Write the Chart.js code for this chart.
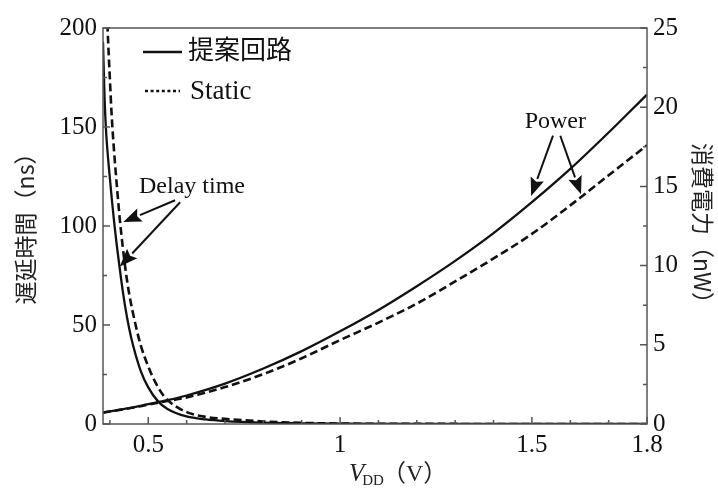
<!DOCTYPE html>
<html>
<head>
<meta charset="utf-8">
<script src="https://cdn.jsdelivr.net/npm/chart.js@4/dist/chart.umd.min.js"></script>
<style>
  html, body { margin: 0; padding: 0; background: #fff; }
  #wrap { width: 718px; height: 488px; }
</style>
</head>
<body>
<div id="wrap"><canvas id="c" width="718" height="488"></canvas></div>
<script>
// Series names shown in the legend
const seriesNames = ['提案回路', 'Static'];

// Delay time (ns) versus supply voltage (V)
const delayVddProposed = [0.382, 0.386, 0.39, 0.40, 0.41, 0.42, 0.43, 0.44, 0.45, 0.46, 0.48, 0.50, 0.526, 0.55, 0.60, 0.65, 0.70, 0.80, 0.90, 1.0, 1.2, 1.5, 1.8];
const delayProposed    = [193, 165, 148, 124, 104, 87, 72, 59, 48.5, 40, 27, 18.5, 11.3, 7.6, 3.8, 2.3, 1.5, 0.7, 0.35, 0.2, 0.08, 0.03, 0.01];
const delayVddStatic   = [0.382, 0.39, 0.394, 0.40, 0.404, 0.41, 0.42, 0.426, 0.44, 0.45, 0.467, 0.48, 0.50, 0.52, 0.54, 0.56, 0.60, 0.65, 0.70, 0.75, 0.80, 0.90, 1.0, 1.1, 1.3, 1.8];
const delayStatic      = [275, 225, 200, 174, 158, 140, 116, 103, 79, 66, 50, 40, 29, 20.5, 14.3, 10.5, 6.0, 3.6, 2.6, 1.9, 1.3, 0.55, 0.25, 0.1, 0.04, 0.01];

// Power consumption (nW) versus supply voltage (V)
const powerVdd      = [0.382, 0.45, 0.5, 0.55, 0.6, 0.7, 0.8, 0.9, 1.0, 1.1, 1.2, 1.3, 1.4, 1.5, 1.6, 1.7, 1.8];
const powerProposed = [0.72, 1.0, 1.25, 1.5, 1.8, 2.55, 3.5, 4.6, 5.85, 7.2, 8.7, 10.3, 12.05, 14.0, 16.1, 18.4, 20.8];
const powerStatic   = [0.72, 0.99, 1.22, 1.45, 1.68, 2.33, 3.15, 4.15, 5.3, 6.4, 7.6, 9.0, 10.45, 12.0, 13.8, 15.7, 17.6];

// Axis ticks
const xTickValues  = [0.5, 1, 1.5, 1.8];
const xMinorTicks  = [0.4, 0.6, 0.7, 0.8, 0.9, 1.1, 1.2, 1.3, 1.4, 1.6, 1.7];
const yLeftTicks   = [0, 50, 100, 150, 200];
const yLeftMinor   = [25, 75, 125, 175];
const yRightTicks  = [0, 5, 10, 15, 20, 25];
const yRightMinor  = [2.5, 7.5, 12.5, 17.5, 22.5];

// Axis titles and callouts
const yLeftTitle  = '遅延時間（ns）';
const yRightTitle = '消費電力（nW）';
const delayLabel  = { text: 'Delay time', at: [0.614, 120], arrows: [[0.570, 113, 0.435, 102], [0.583, 112, 0.426, 79.5]] };
const powerLabel  = { text: 'Power', at: [1.561, 19.1], arrows: [[1.555, 18.2, 1.498, 14.4], [1.574, 18.2, 1.628, 14.5]] };

const pts = (xs, ys) => xs.map((x, i) => ({ x, y: ys[i] }));

const SERIF = "'Liberation Serif', 'Noto Sans CJK JP'";
const INK = '#111';
const FRAME = '#555';

function arrow(ctx, x1, y1, x2, y2) {
  const ang = Math.atan2(y2 - y1, x2 - x1);
  const len = 18, half = 7;
  const bx = x2 - len * Math.cos(ang), by = y2 - len * Math.sin(ang);
  ctx.beginPath();
  ctx.moveTo(x1, y1);
  ctx.lineTo(bx, by);
  ctx.lineWidth = 2;
  ctx.stroke();
  ctx.beginPath();
  ctx.moveTo(x2, y2);
  ctx.lineTo(bx - half * Math.sin(ang), by + half * Math.cos(ang));
  ctx.lineTo(bx + 3 * Math.cos(ang), by + 3 * Math.sin(ang));
  ctx.lineTo(bx + half * Math.sin(ang), by - half * Math.cos(ang));
  ctx.closePath();
  ctx.fill();
}

const decorations = {
  id: 'decorations',
  afterDraw(chart) {
    const ctx = chart.ctx;
    const a = chart.chartArea;
    const sx = chart.scales.x, sl = chart.scales.yL, sr = chart.scales.yR;
    ctx.save();

    // frame
    ctx.strokeStyle = FRAME;
    ctx.lineWidth = 1.5;
    ctx.strokeRect(a.left, a.top, a.right - a.left, a.bottom - a.top);

    // inward tick marks
    ctx.beginPath();
    const tick = (x1, y1, x2, y2) => { ctx.moveTo(x1, y1); ctx.lineTo(x2, y2); };
    xTickValues.forEach(v => { const p = sx.getPixelForValue(v); tick(p, a.bottom, p, a.bottom - 7); });
    xMinorTicks.forEach(v => { const p = sx.getPixelForValue(v); tick(p, a.bottom, p, a.bottom - 4); });
    yLeftTicks.forEach(v => { const p = sl.getPixelForValue(v); tick(a.left, p, a.left + 7, p); });
    yLeftMinor.forEach(v => { const p = sl.getPixelForValue(v); tick(a.left, p, a.left + 4, p); });
    yRightTicks.forEach(v => { const p = sr.getPixelForValue(v); tick(a.right, p, a.right - 7, p); });
    yRightMinor.forEach(v => { const p = sr.getPixelForValue(v); tick(a.right, p, a.right - 4, p); });
    ctx.stroke();

    // legend
    ctx.strokeStyle = INK;
    ctx.fillStyle = INK;
    const lx = a.left + 40;
    const rows = [a.top + 24, a.top + 63];
    ctx.lineWidth = 2.6;
    ctx.setLineDash([]);
    ctx.beginPath(); ctx.moveTo(lx, rows[0]); ctx.lineTo(lx + 39, rows[0]); ctx.stroke();
    ctx.setLineDash([3, 2.6]);
    ctx.beginPath(); ctx.moveTo(lx + 2, rows[1]); ctx.lineTo(lx + 37, rows[1]); ctx.stroke();
    ctx.setLineDash([]);
    ctx.font = '26px ' + SERIF;
    ctx.textBaseline = 'middle';
    ctx.textAlign = 'left';
    ctx.fillText(seriesNames[0], lx + 45, rows[0]);
    ctx.font = '27px ' + SERIF;
    ctx.fillText(seriesNames[1], lx + 47, rows[1] + 1);

    // callouts
    ctx.font = '24px ' + SERIF;
    ctx.textAlign = 'center';
    ctx.fillText(delayLabel.text, sx.getPixelForValue(delayLabel.at[0]), sl.getPixelForValue(delayLabel.at[1]));
    delayLabel.arrows.forEach(r => arrow(ctx, sx.getPixelForValue(r[0]), sl.getPixelForValue(r[1]), sx.getPixelForValue(r[2]), sl.getPixelForValue(r[3])));
    ctx.fillText(powerLabel.text, sx.getPixelForValue(powerLabel.at[0]), sr.getPixelForValue(powerLabel.at[1]));
    powerLabel.arrows.forEach(r => arrow(ctx, sx.getPixelForValue(r[0]), sr.getPixelForValue(r[1]), sx.getPixelForValue(r[2]), sr.getPixelForValue(r[3])));

    // y-axis titles
    ctx.font = "23px 'Noto Sans CJK JP'";
    ctx.fillStyle = '#222';
    ctx.save();
    ctx.translate(25, (a.top + a.bottom) / 2 - 3);
    ctx.rotate(-Math.PI / 2);
    ctx.fillText(yLeftTitle, 0, 0);
    ctx.restore();
    ctx.save();
    ctx.translate(a.right + 56, (a.top + a.bottom) / 2 + 3);
    ctx.rotate(Math.PI / 2);
    ctx.fillText(yRightTitle, 0, 0);
    ctx.restore();

    // x-axis title: V_DD (V)
    ctx.textAlign = 'left';
    ctx.textBaseline = 'alphabetic';
    let tx = 349;
    const base = 481;
    ctx.font = 'italic 25px ' + SERIF;
    ctx.fillText('V', tx, base);
    tx += ctx.measureText('V').width - 2;
    ctx.font = '15px ' + SERIF;
    ctx.fillText('DD', tx, base + 4);
    tx += ctx.measureText('DD').width - 2;
    ctx.font = '24px ' + SERIF;
    ctx.fillText('（V）', tx, base);

    ctx.restore();
  }
};

const tickFont = { family: SERIF, size: 25 };

new Chart(document.getElementById('c'), {
  type: 'line',
  data: {
    datasets: [
      { label: seriesNames[0], data: pts(delayVddProposed, delayProposed), yAxisID: 'yL',
        borderColor: INK, borderWidth: 2.3, pointRadius: 0, cubicInterpolationMode: 'monotone', fill: false },
      { label: seriesNames[1], data: pts(delayVddStatic, delayStatic), yAxisID: 'yL',
        borderColor: INK, borderWidth: 2.6, borderDash: [8, 4], pointRadius: 0, cubicInterpolationMode: 'monotone', fill: false },
      { label: seriesNames[0], data: pts(powerVdd, powerProposed), yAxisID: 'yR',
        borderColor: INK, borderWidth: 2.3, pointRadius: 0, cubicInterpolationMode: 'monotone', fill: false },
      { label: seriesNames[1], data: pts(powerVdd, powerStatic), yAxisID: 'yR',
        borderColor: INK, borderWidth: 2.6, borderDash: [8, 4], pointRadius: 0, cubicInterpolationMode: 'monotone', fill: false }
    ]
  },
  options: {
    responsive: false,
    devicePixelRatio: 1,
    animation: false,
    layout: { padding: { top: 28, left: 0, right: 0, bottom: 0 } },
    plugins: { legend: { display: false }, tooltip: { enabled: false } },
    scales: {
      x: {
        type: 'linear', min: 0.382, max: 1.8,
        afterFit(s) { s.height = 64; },
        afterBuildTicks(s) { s.ticks = xTickValues.map(v => ({ value: v })); },
        grid: { display: false, drawTicks: false },
        border: { display: false },
        ticks: { font: tickFont, color: INK, padding: 6, maxRotation: 0, autoSkip: false, callback: v => String(v) }
      },
      yL: {
        position: 'left', min: 0, max: 200,
        afterFit(s) { s.width = 103; },
        afterBuildTicks(s) { s.ticks = yLeftTicks.map(v => ({ value: v })); },
        grid: { display: false, drawTicks: false },
        border: { display: false },
        ticks: { font: tickFont, color: INK, padding: 6, callback: v => String(v) }
      },
      yR: {
        position: 'right', min: 0, max: 25,
        afterFit(s) { s.width = 71; },
        afterBuildTicks(s) { s.ticks = yRightTicks.map(v => ({ value: v })); },
        grid: { display: false, drawTicks: false },
        border: { display: false },
        ticks: { font: tickFont, color: INK, padding: 6, callback: v => String(v) }
      }
    }
  },
  plugins: [decorations]
});
</script>
</body>
</html>
